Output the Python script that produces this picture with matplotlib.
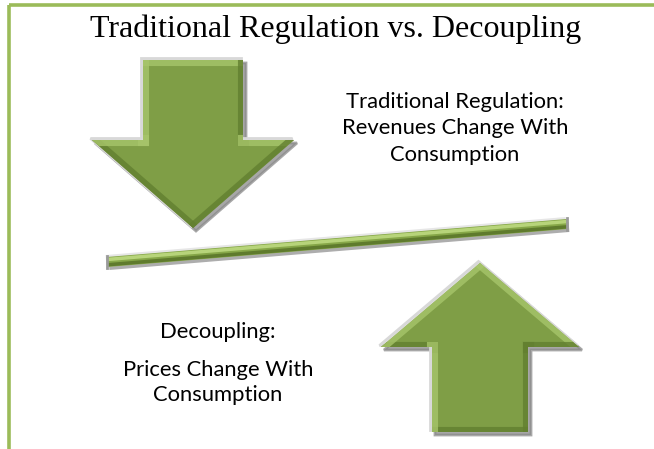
import numpy as np
import matplotlib
matplotlib.use("Agg")
import matplotlib.pyplot as plt
from matplotlib.patches import Polygon

# ---- content ----
title = "Traditional Regulation vs. Decoupling"
label_traditional = ["Traditional Regulation:", "Revenues Change With", "Consumption"]
label_decoupling = ["Decoupling:", "Prices Change With", "Consumption"]

# ---- geometry (pixel units, y downward) ----
down_arrow = dict(cx=193, shaft_half=50, top=60, head_y=140, head_half=101, tip=228)
up_arrow = dict(cx=480, shaft_half=48, bottom=432, head_y=347, head_half=99, tip=263)
bar_ends = [(107, 262), (567, 224)]
bar_thick = 10
traditional_pos = (455, [102, 128.5, 155])
decoupling_pos = (218, [332, 370, 395])

W, H = 654, 449
fig = plt.figure(figsize=(W / 100, H / 100), dpi=100)
ax = fig.add_axes([0, 0, 1, 1])
ax.set_xlim(0, W)
ax.set_ylim(H, 0)
ax.axis("off")

GREEN = "#7F9E46"
LIGHT = "#A7C56B"
DARK = "#627F30"
BORDER = "#9BBB59"

# frame border (top & left)
ax.plot([9, W], [4.5, 4.5], color=BORDER, lw=2.6, solid_capstyle="butt")
ax.plot([9, 9], [4.5, H], color=BORDER, lw=2.6, solid_capstyle="butt")


def arrow_pts(cx, shaft_half, end, head_y, head_half, tip):
    return np.array([
        (cx - shaft_half, end), (cx + shaft_half, end), (cx + shaft_half, head_y),
        (cx + head_half, head_y), (cx, tip), (cx - head_half, head_y),
        (cx - shaft_half, head_y)], float)


def orient(pts):
    x, y = pts[:, 0], pts[:, 1]
    a = 0.5 * np.sum(x * np.roll(y, -1) - np.roll(x, -1) * y)
    return pts if a > 0 else pts[::-1]


def bevel_shape(pts, z=2):
    ax.add_patch(Polygon(pts + [3, 3], closed=True, fc="#8a8a8a", ec="#8a8a8a", lw=2, alpha=0.75, zorder=z))
    ax.add_patch(Polygon(pts + [-1.5, -1.5], closed=True, fc="#e4e4e4", ec="#d8d8d8", lw=2, zorder=z + 0.1))
    main = Polygon(pts, closed=True, fc=GREEN, ec="none", zorder=z + 0.2)
    ax.add_patch(main)
    n = len(pts)
    for i in range(n):
        p, q = pts[i], pts[(i + 1) % n]
        d = q - p
        normal = np.array([d[1], -d[0]])
        c = np.dot(normal / (np.linalg.norm(normal) + 1e-9), [-0.7, -0.7])
        col = LIGHT if c > 0 else DARK
        ln, = ax.plot([p[0], q[0]], [p[1], q[1]], color=col, lw=8, zorder=z + 0.3,
                      solid_capstyle="projecting", alpha=0.8)
        ln.set_clip_path(main)


da = down_arrow
pts_down = arrow_pts(da["cx"], da["shaft_half"], da["top"], da["head_y"], da["head_half"], da["tip"])
ua = up_arrow
pts_up = arrow_pts(ua["cx"], ua["shaft_half"], ua["bottom"], ua["head_y"], ua["head_half"], ua["tip"])
bevel_shape(orient(pts_down))
bevel_shape(orient(pts_up))

# bar
(x0, y0), (x1, y1) = bar_ends
v = np.array([x1 - x0, y1 - y0], float)
u = v / np.linalg.norm(v)
nrm = np.array([-u[1], u[0]])
h = bar_thick / 2
bar = np.array([[x0, y0] - nrm * h, [x1, y1] - nrm * h, [x1, y1] + nrm * h, [x0, y0] + nrm * h])
ax.add_patch(Polygon(bar + [2, 3], closed=True, fc="#8a8a8a", ec="none", alpha=0.7, zorder=2))
ax.add_patch(Polygon(bar + [-1, -2], closed=True, fc="#e6e6e6", ec="none", zorder=2.1))
barp = Polygon(bar, closed=True, fc="#86A748", ec="none", zorder=2.2)
ax.add_patch(barp)
for off, col, lw in [(-2.5, "#B7D47A", 2.5), (2.8, "#5F7B2D", 2.5)]:
    ln, = ax.plot([x0 + nrm[0] * off, x1 + nrm[0] * off], [y0 + nrm[1] * off, y1 + nrm[1] * off],
                  color=col, lw=lw, zorder=2.3)
    ln.set_clip_path(barp)
for (ex, ey) in bar_ends:
    ax.plot([ex, ex], [ey - h - 1, ey + h + 1], color="#9a9a9a", lw=2, zorder=2.4)

# texts
ax.text(336, 37, title, ha="center", va="baseline", fontsize=23, family="Liberation Serif", color="black")
tx, tys = traditional_pos
for s, y in zip(label_traditional, tys):
    ax.text(tx, y, s, ha="center", va="center", fontsize=15.8, family="Lato", color="black")
dx, dys = decoupling_pos
for s, y in zip(label_decoupling, dys):
    ax.text(dx, y, s, ha="center", va="center", fontsize=15.8, family="Lato", color="black")

fig.savefig("out.png", dpi=100)
